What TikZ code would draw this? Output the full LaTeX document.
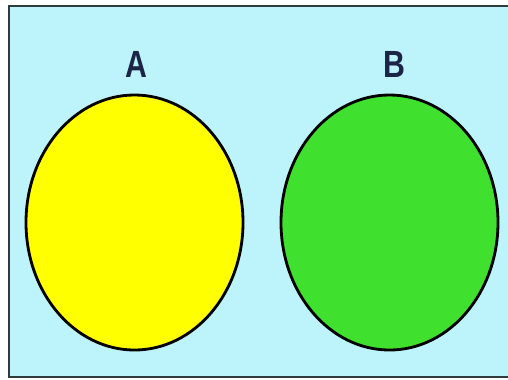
\documentclass[tikz,border=0pt]{standalone}
\usepackage{fontspec}
\setmainfont{Liberation Sans}
\usetikzlibrary{shapes.geometric}
\definecolor{bgblue}{HTML}{BDF3FA}
\definecolor{setyellow}{HTML}{FFFF00}
\definecolor{setgreen}{HTML}{3FE12E}
\definecolor{labelnavy}{HTML}{1C2448}
\definecolor{frameedge}{HTML}{2E3A3C}
\begin{document}
\begin{tikzpicture}[x=1bp,y=-1bp,
  setshape/.style={ellipse, draw=black, line width=2.8bp, minimum width=217bp, minimum height=255bp, inner sep=0pt},
  setlabel/.style={text=labelnavy, font=\fontsize{38}{38}\selectfont\bfseries, inner sep=0pt, anchor=base}]
\useasboundingbox (0,0) rectangle (508,379);
\fill[white] (0,0) rectangle (508,379);
\draw[fill=bgblue, draw=frameedge, line width=2.4bp] (9,6) rectangle (512,377);
\node[setshape, fill=setyellow] (A) at (134.5,222.5) {};
\node[setshape, fill=setgreen] (B) at (389.5,222.5) {};
\node[setlabel] (la) at (136,77) {\scalebox{0.8}[1]{A}};
\node[setlabel] (lb) at (394,77) {\scalebox{0.8}[1]{B}};
\end{tikzpicture}
\end{document}
